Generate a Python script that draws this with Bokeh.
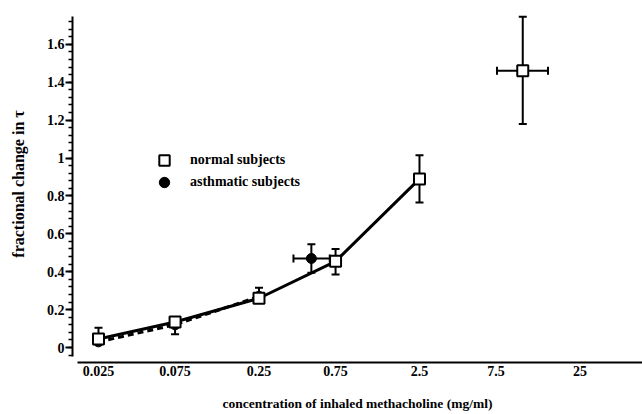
from bokeh.plotting import figure
from bokeh.models import (Range1d, FixedTicker, Whisker, TeeHead, ColumnDataSource,
                          Legend, LegendItem)
from bokeh.embed import file_html
from bokeh.resources import INLINE

# ---- data ----
x_ticks = [0.025, 0.075, 0.25, 0.75, 2.5, 7.5, 25]
x_tick_labels = ["0.025", "0.075", "0.25", "0.75", "2.5", "7.5", "25"]
y_ticks = [0, 0.2, 0.4, 0.6, 0.8, 1, 1.2, 1.4, 1.6]
y_tick_labels = ["0", "0.2", "0.4", "0.6", "0.8", "1", "1.2", "1.4", "1.6"]

normal_x = [0.025, 0.075, 0.25, 0.75, 2.5, 11.0]
normal_y = [0.045, 0.135, 0.26, 0.455, 0.89, 1.46]
normal_err_up = [0.06, 0.0, 0.055, 0.065, 0.125, 0.285]
normal_err_down = [0.0, 0.065, 0.0, 0.07, 0.125, 0.28]
normal_xerr_left = [0, 0, 0, 0, 0, 3.4]
normal_xerr_right = [0, 0, 0, 0, 0, 4.8]

asthma_x = [0.025, 0.075, 0.25, 0.53]
asthma_y = [0.03, 0.12, 0.27, 0.47]
asthma_err_up = [0, 0, 0, 0.075]
asthma_err_down = [0, 0, 0, 0.075]
asthma_xerr_left = [0, 0, 0, 0.12]
asthma_xerr_right = [0, 0, 0, 0.16]

FONT = "Liberation Serif"
INK = "black"

p = figure(width=642, height=414, x_axis_type="log",
           x_range=Range1d(0.01722, 61.3), y_range=Range1d(-0.079, 1.805),
           output_backend="svg", toolbar_location=None,
           min_border_left=72, min_border_right=0, min_border_top=5,
           min_border_bottom=52)
p.outline_line_color = None
p.xgrid.visible = False
p.ygrid.visible = False

# x axis
xa = p.xaxis[0]
xa.ticker = FixedTicker(ticks=x_ticks, minor_ticks=[])
xa.major_label_overrides = {v: l for v, l in zip(x_ticks, x_tick_labels)}
xa.major_tick_out = 0
xa.major_tick_in = 0
xa.minor_tick_out = 0
xa.minor_tick_in = 0
xa.axis_line_width = 2
xa.axis_line_color = INK
xa.bounds = (0.0185, 61.3)
xa.major_label_standoff = 3
xa.major_label_text_font = FONT
xa.major_label_text_font_style = "bold"
xa.major_label_text_font_size = "14px"
xa.major_label_text_color = INK
xa.axis_label = "concentration of inhaled methacholine (mg/ml)"
xa.axis_label_text_font = FONT
xa.axis_label_text_font_style = "bold"
xa.axis_label_text_font_size = "13.5px"
xa.axis_label_text_color = INK
xa.axis_label_standoff = 17

# y axis
ya = p.yaxis[0]
minor = [round(i * 0.04, 2) for i in range(-1, 44)]
ya.ticker = FixedTicker(ticks=y_ticks, minor_ticks=minor)
ya.major_label_overrides = {v: l for v, l in zip(y_ticks, y_tick_labels)}
ya.bounds = (-0.045, 1.745)
ya.major_tick_out = 7
ya.major_tick_in = 0
ya.minor_tick_out = 4
ya.minor_tick_in = 0
ya.axis_line_width = 2
ya.axis_line_color = INK
ya.major_tick_line_width = 2
ya.major_tick_line_color = INK
ya.minor_tick_line_width = 1.5
ya.minor_tick_line_color = INK
ya.major_label_standoff = 1
ya.major_label_text_font = FONT
ya.major_label_text_font_style = "bold"
ya.major_label_text_font_size = "14px"
ya.major_label_text_color = INK
ya.axis_label = "fractional change in \u03c4"
ya.axis_label_text_font = FONT
ya.axis_label_text_font_style = "bold"
ya.axis_label_text_font_size = "16px"
ya.axis_label_text_color = INK
ya.axis_label_standoff = 17


def add_bars(xs, ys, up, down, left, right):
    idx = [i for i in range(len(xs)) if up[i] > 0]
    if idx:
        src = ColumnDataSource(dict(base=[xs[i] for i in idx], lower=[ys[i] for i in idx],
                                    upper=[ys[i] + up[i] for i in idx]))
        p.add_layout(Whisker(source=src, base="base", lower="lower", upper="upper",
                             dimension="height", line_width=2, lower_head=None,
                             upper_head=TeeHead(size=8, line_width=2), level="underlay"))
    idx = [i for i in range(len(xs)) if down[i] > 0]
    if idx:
        src = ColumnDataSource(dict(base=[xs[i] for i in idx], lower=[ys[i] - down[i] for i in idx],
                                    upper=[ys[i] for i in idx]))
        p.add_layout(Whisker(source=src, base="base", lower="lower", upper="upper",
                             dimension="height", line_width=2, upper_head=None,
                             lower_head=TeeHead(size=8, line_width=2), level="underlay"))
    idx = [i for i in range(len(xs)) if left[i] > 0]
    if idx:
        src = ColumnDataSource(dict(base=[ys[i] for i in idx], lower=[xs[i] - left[i] for i in idx],
                                    upper=[xs[i] for i in idx]))
        p.add_layout(Whisker(source=src, base="base", lower="lower", upper="upper",
                             dimension="width", line_width=2, upper_head=None,
                             lower_head=TeeHead(size=8, line_width=2), level="underlay"))
    idx = [i for i in range(len(xs)) if right[i] > 0]
    if idx:
        src = ColumnDataSource(dict(base=[ys[i] for i in idx], lower=[xs[i] for i in idx],
                                    upper=[xs[i] + right[i] for i in idx]))
        p.add_layout(Whisker(source=src, base="base", lower="lower", upper="upper",
                             dimension="width", line_width=2, lower_head=None,
                             upper_head=TeeHead(size=8, line_width=2), level="underlay"))


add_bars(asthma_x, asthma_y, asthma_err_up, asthma_err_down, asthma_xerr_left, asthma_xerr_right)
add_bars(normal_x, normal_y, normal_err_up, normal_err_down, normal_xerr_left, normal_xerr_right)

# lines
p.line(asthma_x[:3], asthma_y[:3], line_color=INK, line_width=3, line_dash="6 4")
p.line(normal_x[:5], normal_y[:5], line_color=INK, line_width=3)

circ = p.scatter(asthma_x, asthma_y, marker="circle", size=10, fill_color=INK,
                 line_color=INK, line_width=1)
sq = p.scatter(normal_x, normal_y, marker="square", size=11, fill_color="white",
               line_color=INK, line_width=2)


def make_legend(label, renderer, loc):
    return Legend(items=[LegendItem(label=label, renderers=[renderer])],
                  location=loc, border_line_color=None, background_fill_alpha=0,
                  padding=0, margin=0, spacing=0, glyph_width=26, glyph_height=26,
                  label_height=26, label_standoff=13, label_text_font=FONT,
                  label_text_font_style="bold", label_text_font_size="14px",
                  label_text_color=INK)


p.add_layout(make_legend("normal subjects", sq, (79, 189)))
p.add_layout(make_legend("asthmatic subjects", circ, (79, 167)))

open("out.html", "w").write(file_html(p, INLINE))
